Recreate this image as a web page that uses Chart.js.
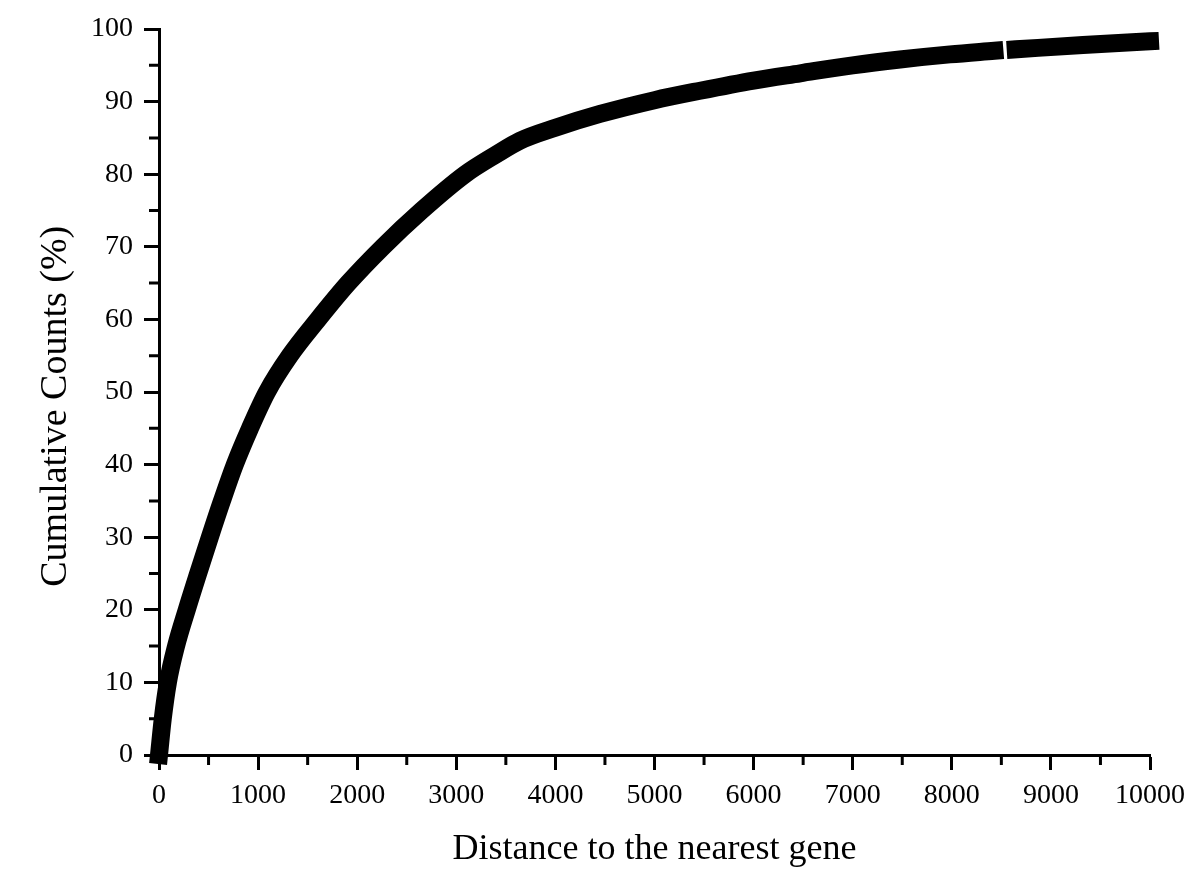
<!DOCTYPE html>
<html>
<head>
<meta charset="utf-8">
<script src="https://cdn.jsdelivr.net/npm/chart.js@4.4.1/dist/chart.umd.min.js"></script>
<style>
  html, body { margin: 0; padding: 0; background: #fff; }
  #wrap { width: 1200px; height: 880px; }
</style>
</head>
<body>
<div id="wrap"><canvas id="cdfChart" width="1200" height="880"></canvas></div>
<script>
// Distance (bp) and cumulative percentage.
// null marks the small break in the curve near 8500.
const distance = [0, 38, 90, 172, 280, 395, 513, 635, 765, 918, 1090, 1320, 1605, 1910, 2260,
    2650, 3090, 3400, 3640, 4000, 4450, 5000, 5460, 6000, 6470, 7000, 7477, 7982, 8430,
    8540, 8645, 9324, 10000];
const cumulative = [0, 5, 10, 15, 20, 25, 30, 35, 40, 45, 50, 55, 60, 65, 70,
    75, 80, 82.7, 84.6, 86.4, 88.3, 90.2, 91.5, 92.9, 93.9, 95.0, 95.8, 96.5, 97.0,
    null, 97.2, 97.8, 98.3];

const xMinorTicks = [500, 1500, 2500, 3500, 4500, 5500, 6500, 7500, 8500, 9500];
const yMinorTicks = [5, 15, 25, 35, 45, 55, 65, 75, 85, 95];

const serif = '"Liberation Serif", "Times New Roman", serif';

// minor ticks are shorter than the major ones, draw them by hand on the scales
const minorTicks = {
    id: 'minorTicks',
    afterDraw(chart) {
        const ctx = chart.ctx;
        const xs = chart.scales.x;
        const ys = chart.scales.y;
        const area = chart.chartArea;
        ctx.save();
        ctx.strokeStyle = '#000';
        ctx.lineWidth = 3;
        ctx.beginPath();
        xMinorTicks.forEach(v => {
            const px = xs.getPixelForValue(v);
            ctx.moveTo(px, area.bottom);
            ctx.lineTo(px, area.bottom + 10);
        });
        yMinorTicks.forEach(v => {
            const py = ys.getPixelForValue(v);
            ctx.moveTo(area.left, py);
            ctx.lineTo(area.left - 10, py);
        });
        ctx.stroke();
        ctx.restore();
    }
};

new Chart(document.getElementById('cdfChart'), {
    type: 'line',
    data: {
        datasets: [{
            data: distance.map((d, i) => ({ x: d, y: cumulative[i] })),
            borderColor: '#000',
            borderWidth: 18,
            borderCapStyle: 'square',
            pointRadius: 0,
            cubicInterpolationMode: 'monotone',
            spanGaps: false,
            fill: false,
            clip: false
        }]
    },
    options: {
        responsive: false,
        animation: false,
        layout: { padding: { top: 29, right: 50, left: 0, bottom: 0 } },
        plugins: {
            legend: { display: false },
            tooltip: { enabled: false }
        },
        scales: {
            x: {
                type: 'linear',
                min: 0,
                max: 10000,
                afterFit: s => { s.height = 125; },
                border: { display: true, color: '#000', width: 3 },
                grid: { drawOnChartArea: false, tickLength: 15, tickWidth: 3, tickColor: '#000' },
                ticks: {
                    stepSize: 1000,
                    autoSkip: false,
                    maxRotation: 0,
                    padding: 9,
                    color: '#000',
                    font: { family: serif, size: 28 },
                    callback: v => String(v)
                },
                title: {
                    display: true,
                    text: 'Distance to the nearest gene',
                    color: '#000',
                    font: { family: serif, size: 36 },
                    padding: { top: 0, bottom: 9 }
                }
            },
            y: {
                min: 0,
                max: 100,
                afterFit: s => { s.width = 159; },
                border: { display: true, color: '#000', width: 3 },
                grid: { drawOnChartArea: false, tickLength: 15, tickWidth: 3, tickColor: '#000' },
                ticks: {
                    stepSize: 10,
                    padding: 11,
                    color: '#000',
                    font: { family: serif, size: 28 },
                    callback: v => String(v)
                },
                title: {
                    display: true,
                    // trailing spaces nudge the rotated title down a little, like the original
                    text: 'Cumulative Counts (%)\u2002 ',
                    color: '#000',
                    font: { family: serif, size: 38 },
                    padding: { top: 33, bottom: 0 }
                }
            }
        }
    },
    plugins: [minorTicks]
});
</script>
</body>
</html>
